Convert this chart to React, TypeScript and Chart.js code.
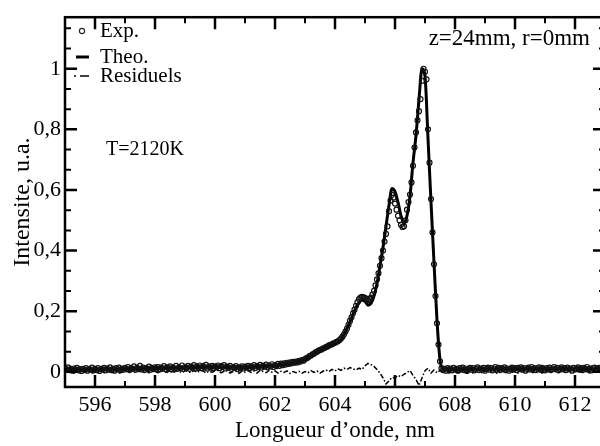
import React, { useEffect, useRef } from "react";
import { Chart, registerables } from "chart.js";

Chart.register(...registerables);

// ---- Data ----
const expStart = 595;
const expStep = 0.05;
const expIntensity = [
  0.012,0.008,0.015,0.006,0.010,0.004,0.011,0.007,0.013,0.005,0.009,0.003,0.010,0.006,0.012,0.004,0.009,0.007,0.014,0.005,0.010,
  0.006,0.012,0.003,0.009,0.008,0.013,0.005,0.011,0.007,0.015,0.006,0.010,0.004,0.012,0.008,0.014,0.005,0.010,0.007,0.013,
  0.009,0.016,0.006,0.012,0.010,0.018,0.007,0.013,0.009,0.020,0.008,0.014,0.006,0.012,0.010,0.017,0.007,0.013,0.009,0.015,
  0.010,0.016,0.008,0.014,0.011,0.019,0.009,0.015,0.012,0.018,0.008,0.014,0.011,0.020,0.010,0.015,0.012,0.021,0.009,0.016,
  0.013,0.020,0.010,0.017,0.014,0.022,0.011,0.018,0.013,0.021,0.012,0.019,0.015,0.023,0.011,0.017,0.014,0.020,0.012,0.018,
  0.015,0.021,0.012,0.019,0.016,0.022,0.011,0.017,0.014,0.020,0.010,0.016,0.013,0.019,0.009,0.015,0.012,0.018,0.011,0.017,
  0.014,0.020,0.012,0.018,0.015,0.022,0.013,0.019,0.016,0.023,0.014,0.020,0.017,0.024,0.015,0.021,0.018,0.025,0.016,0.022,
  0.019,0.026,0.020,0.027,0.022,0.028,0.024,0.030,0.026,0.031,0.028,0.033,0.030,0.034,0.031,0.036,0.034,0.039,0.037,0.042,
  0.045,0.047,0.052,0.054,0.058,0.060,0.064,0.066,0.070,0.072,0.074,0.077,0.079,0.082,0.084,0.087,0.089,0.091,0.094,0.096,
  0.099,0.101,0.105,0.110,0.116,0.124,0.133,0.143,0.155,0.168,0.180,0.193,0.205,0.218,0.230,0.240,0.245,0.247,0.246,0.244,
  0.240,0.237,0.240,0.245,0.256,0.267,0.285,0.305,0.325,0.350,0.375,0.400,0.430,0.455,0.480,0.530,0.565,0.584,0.575,0.555,
  0.535,0.515,0.500,0.485,0.478,0.480,0.500,0.535,0.560,0.585,0.625,0.680,0.740,0.790,0.830,0.860,0.900,0.960,1.000,0.990,
  0.965,0.800,0.690,0.570,0.460,0.355,0.250,0.160,0.090,0.035,0.012,0.006,0.010,0.004,0.012,0.008,0.011,0.005,0.013,0.007,
  0.010,0.004,0.012,0.008,0.014,0.006,0.011,0.003,0.009,0.013,0.007,0.012,0.005,0.010,0.015,0.006,0.011,0.008,0.013,0.004,
  0.010,0.014,0.007,0.012,0.005,0.011,0.016,0.008,0.013,0.006,0.012,0.009,0.015,0.007,0.011,0.004,0.010,0.014,0.008,0.012,
  0.006,0.013,0.009,0.015,0.007,0.012,0.004,0.010,0.014,0.008,0.016,0.009,0.012,0.006,0.011,0.015,0.007,0.013,0.010,0.005,
  0.012,0.008,0.014,0.006,0.011,0.016,0.009,0.013,0.005,0.010,0.015,0.008,0.012,0.006,0.014,0.009,0.011,0.004,0.013,0.008,
  0.010,0.015,0.007,0.012,0.006,0.013,0.009,0.016,0.008,0.011,0.005,0.012,0.014,0.007,0.010,0.013,0.006,0.011,0.009,0.012,
];

const fitStart = 595;
const fitStep = 0.1;
const theoIntensity = [
  0.009,0.009,0.008,0.008,0.008,0.008,0.008,0.008,0.008,0.008,0.008,
  0.008,0.008,0.009,0.009,0.009,0.009,0.009,0.009,0.010,0.010,
  0.010,0.011,0.011,0.011,0.012,0.012,0.012,0.012,0.012,0.012,
  0.012,0.013,0.013,0.013,0.013,0.014,0.014,0.014,0.014,0.015,
  0.015,0.015,0.015,0.016,0.016,0.016,0.016,0.016,0.016,0.016,
  0.016,0.016,0.016,0.016,0.015,0.015,0.015,0.015,0.015,0.015,
  0.016,0.016,0.017,0.017,0.018,0.018,0.019,0.019,0.020,0.020,
  0.021,0.022,0.023,0.025,0.027,0.029,0.031,0.034,0.037,0.041,
  0.047,0.054,0.061,0.067,0.072,0.077,0.082,0.086,0.089,0.092,
  0.097,0.107,0.123,0.143,0.165,0.190,0.212,0.228,0.236,0.233,
  0.220,0.226,0.250,0.292,0.350,0.410,0.480,0.550,0.605,0.595,
  0.560,0.515,0.490,0.515,0.580,0.690,0.780,0.900,1.000,0.975,
  0.770,0.560,0.360,0.170,0.040,0.010,0.008,0.008,0.008,0.008,
  0.008,0.008,0.009,0.009,0.009,0.009,0.009,0.009,0.009,0.009,
  0.009,0.009,0.009,0.010,0.010,0.010,0.010,0.010,0.010,0.010,
  0.010,0.010,0.010,0.010,0.010,0.010,0.010,0.010,0.010,0.010,
  0.010,0.010,0.010,0.010,0.010,0.010,0.010,0.010,0.010,0.010,
  0.010,0.010,0.010,0.010,0.010,0.010,0.010,0.010,0.010,0.010,
];

const residuals = [
  0.003,-0.002,0.005,-0.004,0.002,-0.003,0.004,-0.001,0.003,-0.004,0.002,
  -0.002,0.004,-0.003,0.001,0.005,-0.002,0.003,-0.004,0.002,0.004,
  -0.001,0.005,-0.003,0.002,0.006,-0.002,0.004,-0.003,0.003,0.001,
  -0.003,0.004,0.001,-0.002,0.005,-0.004,0.003,0.002,-0.003,0.004,
  0.001,-0.003,0.005,-0.002,0.003,0.004,-0.004,0.002,-0.001,0.003,
  0.005,-0.003,0.002,0.004,-0.004,0.001,0.003,-0.005,0.002,-0.001,
  0.004,-0.002,0.003,-0.004,0.005,0.001,-0.003,0.004,-0.001,0.003,
  -0.004,0.002,-0.002,0.003,-0.005,0.001,-0.003,0.002,-0.004,0.001,
  -0.003,0.004,-0.002,0.003,-0.004,0.002,0.006,0.001,0.008,0.003,
  0.010,0.005,0.012,0.008,0.014,0.010,0.006,0.012,0.008,0.020,
  0.028,0.024,0.018,0.008,-0.004,-0.020,-0.040,-0.030,-0.018,-0.020,
  -0.012,-0.016,-0.008,-0.002,0.004,-0.012,-0.025,-0.045,-0.020,0.004,
  0.012,-0.004,0.006,-0.003,0.005,-0.002,0.003,-0.004,0.002,0.004,
  -0.003,0.002,0.004,-0.002,0.003,-0.004,0.001,0.005,-0.003,0.002,
  0.004,-0.002,0.003,-0.005,0.002,0.001,-0.003,0.004,-0.002,0.003,
  -0.004,0.002,0.005,-0.001,0.003,-0.003,0.002,0.004,-0.004,0.001,
  0.003,-0.002,0.004,-0.003,0.001,0.005,-0.002,0.003,-0.004,0.002,
  0.004,-0.003,0.002,0.001,-0.004,0.003,-0.002,0.005,-0.001,0.002,
];

const xTickValues = [596, 598, 600, 602, 604, 606, 608, 610, 612];
const yTickValues = [0, 0.2, 0.4, 0.6, 0.8, 1];

const seriesLabels = ["Exp.", "Theo.", "Residuels"];
const xAxisTitle = "Longueur d\u2019onde, nm";
const yAxisTitle = "Intensite, u.a.";
const noteTopRight = "z=24mm, r=0mm";
const noteTemperature = "T=2120K";

const X_MIN = 595;
const X_MAX = 613;
const Y_MIN = -0.05;
const Y_MAX = 1.17;

const SERIF = "'Liberation Serif', 'Times New Roman', serif";

const toPoints = (vals: number[], start: number, step: number) =>
  vals.map((y, i) => ({ x: +(start + i * step).toFixed(3), y }));

const framePlugin = {
  id: "frameAndNotes",
  afterDraw(chart: any) {
    const { ctx, chartArea: a, scales } = chart;
    const xs = scales.x;
    const ys = scales.y;
    ctx.save();
    ctx.strokeStyle = "#000";
    ctx.lineCap = "butt";

    const MAJ = 12;
    const MIN = 6;
    const tickX = (px: number, len: number, w: number) => {
      ctx.lineWidth = w;
      ctx.beginPath();
      ctx.moveTo(px, a.bottom);
      ctx.lineTo(px, a.bottom - len);
      ctx.moveTo(px, a.top);
      ctx.lineTo(px, a.top + len);
      ctx.stroke();
    };
    const tickY = (py: number, len: number, w: number) => {
      ctx.lineWidth = w;
      ctx.beginPath();
      ctx.moveTo(a.left, py);
      ctx.lineTo(a.left + len, py);
      ctx.moveTo(a.right, py);
      ctx.lineTo(a.right - len, py);
      ctx.stroke();
    };

    const xMaj = xs.ticks.map((t: any) => t.value);
    const xStep = xMaj.length > 1 ? xMaj[1] - xMaj[0] : 2;
    for (let k = -1; k <= xMaj.length; k++) {
      const v = xMaj[0] + k * xStep;
      if (v > xs.min && v < xs.max) tickX(xs.getPixelForValue(v), MAJ, 2.5);
      const m = v + xStep / 2;
      if (m > xs.min && m < xs.max) tickX(xs.getPixelForValue(m), MIN, 2);
    }
    const yMaj = ys.ticks.map((t: any) => t.value);
    const yStep = yMaj.length > 1 ? yMaj[1] - yMaj[0] : 0.2;
    for (let k = -3; k <= yMaj.length * 3 + 3; k++) {
      const v = yMaj[0] + (k * yStep) / 3;
      if (v <= ys.min || v >= ys.max) continue;
      const isMajor = k % 3 === 0;
      tickY(ys.getPixelForValue(v), isMajor ? MAJ : MIN, isMajor ? 2.5 : 2);
    }

    ctx.lineWidth = 2.5;
    ctx.strokeRect(a.left, a.top, a.right - a.left, a.bottom - a.top);

    // legend
    const labels = chart.data.datasets.map((d: any) => d.label);
    ctx.fillStyle = "#000";
    ctx.font = `21px ${SERIF}`;
    ctx.textAlign = "left";
    ctx.textBaseline = "alphabetic";
    const textX = 100;
    ctx.lineWidth = 1.1;
    ctx.strokeStyle = "#222";
    ctx.beginPath();
    ctx.arc(82, 31, 2.6, 0, Math.PI * 2);
    ctx.stroke();
    ctx.fillText(labels[0], textX, 37);
    ctx.strokeStyle = "#000";
    ctx.lineWidth = 3;
    ctx.beginPath();
    ctx.moveTo(76, 57);
    ctx.lineTo(89, 57);
    ctx.stroke();
    ctx.fillText(labels[1], textX, 63);
    ctx.lineWidth = 1.6;
    ctx.beginPath();
    ctx.moveTo(74, 76);
    ctx.lineTo(76, 76);
    ctx.moveTo(80, 76);
    ctx.lineTo(89, 76);
    ctx.stroke();
    ctx.fillText(labels[2], textX, 82);

    // notes
    ctx.font = `23px ${SERIF}`;
    ctx.textAlign = "right";
    ctx.fillText(noteTopRight, 590, 45);
    ctx.textAlign = "left";
    ctx.font = `20px ${SERIF}`;
    ctx.fillText(noteTemperature, 106, 155);
    ctx.restore();
  },
};

export default function App() {
  const canvasRef = useRef<HTMLCanvasElement | null>(null);

  useEffect(() => {
    const canvas = canvasRef.current;
    if (!canvas) return;
    const tickFont = { family: SERIF, size: 22 };
    const titleFont = { family: SERIF, size: 23 };
    const chart = new Chart(canvas, {
      type: "line",
      data: {
        datasets: [
          {
            label: seriesLabels[0],
            data: toPoints(expIntensity, expStart, expStep),
            showLine: false,
            pointStyle: "circle",
            pointRadius: 2.5,
            pointBorderWidth: 1.2,
            pointBorderColor: "#111",
            pointBackgroundColor: "rgba(255,255,255,0)",
            borderColor: "#111",
          },
          {
            label: seriesLabels[1],
            data: toPoints(theoIntensity, fitStart, fitStep),
            borderColor: "#000",
            borderWidth: 3,
            pointRadius: 0,
            cubicInterpolationMode: "monotone",
          },
          {
            label: seriesLabels[2],
            data: toPoints(residuals, fitStart, fitStep),
            borderColor: "#000",
            borderWidth: 1.5,
            borderDash: [5, 2, 1.5, 2],
            pointRadius: 0,
          },
        ],
      } as any,
      options: {
        animation: false,
        responsive: false,
        devicePixelRatio: 1,
        layout: { padding: { top: 10, right: 15, bottom: 0, left: 0 } },
        plugins: {
          legend: { display: false },
          tooltip: { enabled: false },
        },
        scales: {
          x: {
            type: "linear",
            min: X_MIN,
            max: X_MAX,
            grid: { display: false, drawTicks: false },
            border: { display: false },
            afterBuildTicks: (s: any) => {
              s.ticks = xTickValues.map((value) => ({ value }));
            },
            ticks: {
              autoSkip: false,
              maxRotation: 0,
              padding: 5,
              color: "#000",
              font: tickFont,
            },
            title: {
              display: true,
              text: xAxisTitle,
              color: "#000",
              font: titleFont,
              padding: { top: 0, bottom: 1 },
            },
            afterFit: (s: any) => {
              s.height = 59;
            },
          },
          y: {
            type: "linear",
            min: Y_MIN,
            max: Y_MAX,
            grid: { display: false, drawTicks: false },
            border: { display: false },
            afterBuildTicks: (s: any) => {
              s.ticks = yTickValues.map((value) => ({ value }));
            },
            ticks: {
              autoSkip: false,
              padding: 4,
              color: "#000",
              font: tickFont,
              callback: (v: any) => String(+Number(v).toFixed(1)).replace(".", ","),
            },
            title: {
              display: true,
              text: yAxisTitle,
              color: "#000",
              font: { family: SERIF, size: 24 },
              padding: { top: 8, bottom: 0 },
            },
            afterFit: (s: any) => {
              s.width = 65;
            },
          },
        },
      } as any,
      plugins: [framePlugin],
    });
    return () => chart.destroy();
  }, []);

  return (
    <div
      style={{
        position: "fixed",
        left: 0,
        top: 0,
        width: 600,
        height: 446,
        overflow: "hidden",
        background: "#fff",
      }}
    >
      <canvas
        ref={canvasRef}
        width={620}
        height={446}
        style={{ display: "block", width: 620, height: 446 }}
      />
    </div>
  );
}
